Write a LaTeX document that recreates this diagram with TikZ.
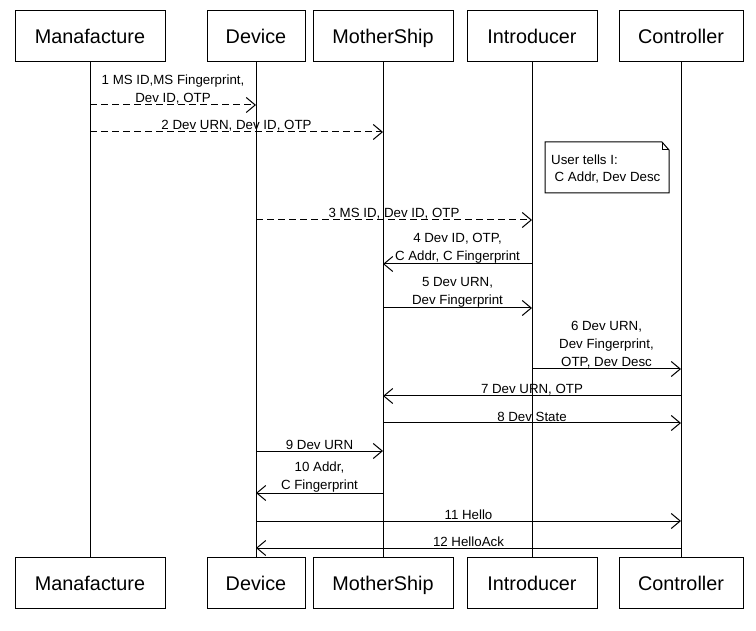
\documentclass[tikz,border=0pt]{standalone}
\usepackage{fontspec}
\setmainfont{Liberation Sans}
\usetikzlibrary{arrows.meta}
\begin{document}
\begin{tikzpicture}[x=1pt,y=-1pt,
  actor/.style={draw,line width=1pt,minimum height=51pt,inner sep=0pt,
    text depth=0pt,font=\fontsize{19.8}{24}\selectfont},
  life/.style={line width=1pt},
  msg/.style={line width=1pt,-{Straight Barb[length=9pt,width=15pt,line width=1pt]}},
  dmsg/.style={msg,dash pattern=on 7pt off 4pt},
  lbl/.style={above,inner sep=0.6pt,align=center,font=\fontsize{13.3}{17.8}\selectfont},
  notetext/.style={align=left,inner sep=0pt,font=\fontsize{13.3}{17.8}\selectfont}]
\useasboundingbox[fill=white] (0,0) rectangle (756,631);
% top actors
\node[actor,minimum width=150pt] (mT) at (90,36.5) {Manafacture};
\node[actor,minimum width=98pt]  (dT) at (256,36.5) {Device};
\node[actor,minimum width=140pt] (sT) at (383,36.5) {MotherShip};
\node[actor,minimum width=130pt] (iT) at (532,36.5) {Introducer};
\node[actor,minimum width=124pt] (cT) at (681,36.5) {Controller};
% bottom actors
\node[actor,minimum width=150pt] (mB) at (90,583) {Manafacture};
\node[actor,minimum width=98pt]  (dB) at (256,583) {Device};
\node[actor,minimum width=140pt] (sB) at (383,583) {MotherShip};
\node[actor,minimum width=130pt] (iB) at (532,583) {Introducer};
\node[actor,minimum width=124pt] (cB) at (681,583) {Controller};
% lifelines
\draw[life] (mT) -- (mB);
\draw[life] (dT) -- (dB);
\draw[life] (sT) -- (sB);
\draw[life] (iT) -- (iB);
\draw[life] (cT) -- (cB);
% y levels
\coordinate (y1) at (0,105);
\coordinate (y2) at (0,132);
\coordinate (y3) at (0,220);
\coordinate (y4) at (0,264);
\coordinate (y5) at (0,308);
\coordinate (y6) at (0,369);
\coordinate (y7) at (0,396);
\coordinate (y8) at (0,423);
\coordinate (y9) at (0,451);
\coordinate (y10) at (0,493);
\coordinate (y11) at (0,521);
\coordinate (y12) at (0,548);
% note
\draw[line width=1pt,fill=white] (545,142) -- (662,142) -- (669,150) -- (669,193) -- (545,193) -- cycle;
\draw[line width=1pt] (662,142) -- (662,150) -- (669,150);
\node[notetext,anchor=west] (note) at (551,169) {User tells I:\\\hspace*{3.5pt}C Addr, Dev Desc};
% messages
\draw[dmsg] (mT |- y1) -- node[lbl] {1 MS ID,MS Fingerprint,\\Dev ID, OTP} (dT |- y1);
\draw[dmsg] (mT |- y2) -- node[lbl] {2 Dev URN, Dev ID, OTP} (sT |- y2);
\draw[dmsg] (dT |- y3) -- node[lbl] {3 MS ID, Dev ID, OTP} (iT |- y3);
\draw[msg] (iT |- y4) -- node[lbl] {4 Dev ID, OTP,\\C Addr, C Fingerprint} (sT |- y4);
\draw[msg] (sT |- y5) -- node[lbl] {5 Dev URN,\\Dev Fingerprint} (iT |- y5);
\draw[msg] (iT |- y6) -- node[lbl] {6 Dev URN,\\Dev Fingerprint,\\OTP, Dev Desc} (cT |- y6);
\draw[msg] (cT |- y7) -- node[lbl] {7 Dev URN, OTP} (sT |- y7);
\draw[msg] (sT |- y8) -- node[lbl] {8 Dev State} (cT |- y8);
\draw[msg] (dT |- y9) -- node[lbl] {9 Dev URN} (sT |- y9);
\draw[msg] (sT |- y10) -- node[lbl] {10 Addr,\\C Fingerprint} (dT |- y10);
\draw[msg] (dT |- y11) -- node[lbl] {11 Hello} (cT |- y11);
\draw[msg] (cT |- y12) -- node[lbl] {12 HelloAck} (dT |- y12);
\end{tikzpicture}
\end{document}
